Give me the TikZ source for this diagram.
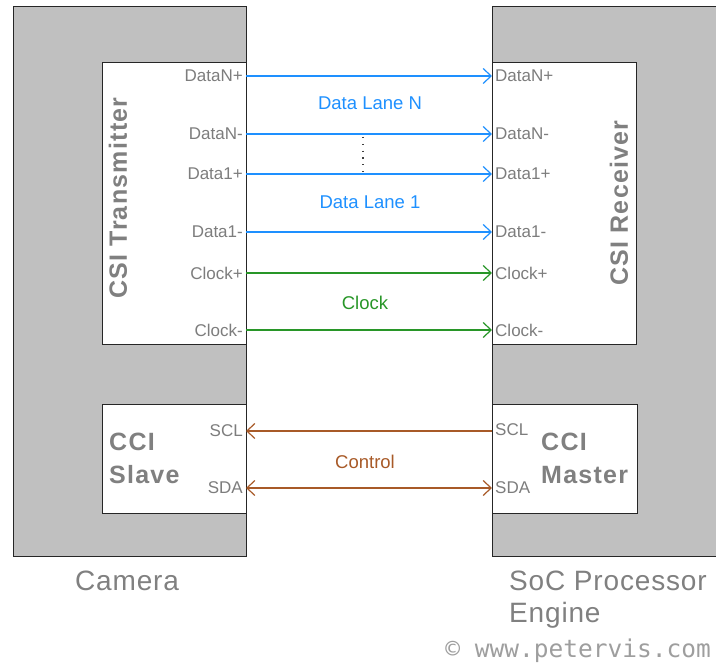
\documentclass[tikz,border=0pt]{standalone}
\usepackage{fontspec}
\setmainfont{Liberation Sans}
\newfontfamily\webfont{DejaVu Sans Mono}
\usepackage{xcolor}
\usetikzlibrary{arrows.meta}

\definecolor{laneblue}{RGB}{30,144,255}
\definecolor{clkgreen}{RGB}{40,150,40}
\definecolor{ctlbrown}{RGB}{168,90,40}
\definecolor{blockgray}{RGB}{192,192,192}
\definecolor{pingray}{RGB}{125,125,125}
\definecolor{titlegray}{RGB}{128,128,128}

\tikzset{
  block/.style={draw=black!85,line width=1.2pt,fill=blockgray,anchor=north west,inner sep=0pt},
  unitbox/.style={draw=black!85,line width=1.2pt,fill=white,anchor=north west,inner sep=0pt},
  pinl/.style={anchor=east,inner xsep=3pt,inner ysep=0pt,text=pingray,font=\fontsize{17}{18}\selectfont},
  pinr/.style={anchor=west,inner xsep=3pt,inner ysep=0pt,text=pingray,font=\fontsize{17}{18}\selectfont},
  title/.style={inner sep=0pt,text=titlegray,font=\bfseries\fontsize{25}{33}\selectfont\addfontfeature{LetterSpace=5}},
  lanetext/.style={font=\fontsize{18.5}{20}\selectfont},
  caption/.style={inner sep=0pt,anchor=north west,align=left,text=titlegray,font=\fontsize{28}{32}\selectfont\addfontfeature{LetterSpace=3}},
  wire/.style={line width=1.2pt},
  lanetip/.tip={Straight Barb[length=8pt,width=15pt]},
}

\begin{document}
\begin{tikzpicture}[x=1pt,y=-1pt]
\useasboundingbox(0,0)rectangle(716,668);

% camera and processor blocks
\node[block,minimum width=233pt,minimum height=550pt](camera)at(13,6){};
\node[block,minimum width=232pt,minimum height=550pt](soc)at(492,6){};

% CSI and CCI units
\node[unitbox,minimum width=144pt,minimum height=282pt](tx)at(102,62){};
\node[unitbox,minimum width=144pt,minimum height=282pt](rx)at(492,62){};
\node[unitbox,minimum width=144pt,minimum height=109pt](slave)at(102,404){};
\node[unitbox,minimum width=145pt,minimum height=109pt](master)at(492,404){};

\node[title,rotate=90](txname)at(118,198){CSI Transmitter};
\node[title,rotate=90](rxname)at(619,203){CSI Receiver};
\node[title,anchor=north west,align=left](slavename)at(109,433){CCI\\Slave};
\node[title,anchor=north west,align=left](mastername)at(541,433){CCI\\Master};

% pins on the transmitter side
\node[pinl](txdnp)at(246,76){DataN+};
\node[pinl](txdnm)at(246,134){DataN-};
\node[pinl](txdap)at(246,174){Data1+};
\node[pinl](txdam)at(246,232){Data1-};
\node[pinl](txckp)at(246,273){Clock+};
\node[pinl](txckm)at(246,330){Clock-};
\node[pinl](slscl)at(246,431){SCL};
\node[pinl](slsda)at(246,488){SDA};

% pins on the receiver side
\node[pinr](rxdnp)at(492,76){DataN+};
\node[pinr](rxdnm)at(492,134){DataN-};
\node[pinr](rxdap)at(492,174){Data1+};
\node[pinr](rxdam)at(492,232){Data1-};
\node[pinr](rxckp)at(492,273){Clock+};
\node[pinr](rxckm)at(492,330){Clock-};
\node[pinr](mascl)at(492,430){SCL};
\node[pinr](masda)at(492,488){SDA};

% lanes
\draw[wire,laneblue,-lanetip](txdnp.east)--(rxdnp.west);
\draw[wire,laneblue,-lanetip](txdnm.east)--(rxdnm.west);
\draw[wire,laneblue,-lanetip](txdap.east)--(rxdap.west);
\draw[wire,laneblue,-lanetip](txdam.east)--(rxdam.west);
\draw[wire,clkgreen,-lanetip](txckp.east)--(rxckp.west);
\draw[wire,clkgreen,-lanetip](txckm.east)--(rxckm.west);
\draw[wire,ctlbrown,lanetip-](slscl.east)--(slscl.east-|mascl.west);
\draw[wire,ctlbrown,lanetip-lanetip](slsda.east)--(masda.west);

\coordinate(dottop)at(363,137);
\coordinate(dotbot)at(363,172);
\draw[line width=1.2pt,black!75,dash pattern=on 1.2pt off 5.6pt](dottop)--(dotbot);

\node[lanetext,laneblue](lanen)at(370,103){Data Lane N};
\node[lanetext,laneblue](lane1)at(370,202){Data Lane 1};
\node[lanetext,clkgreen](clock)at(365,303){Clock};
\node[lanetext,ctlbrown](control)at(365,462){Control};

% captions
\node[caption](camname)at(75,571){Camera};
\node[caption](socname)at(509,571){SoC Processor\\Engine};
\node[anchor=east,inner sep=0pt,text=black!38,font=\webfont\fontsize{24.5}{26}\selectfont](site)at(711,651){\textcopyright{} www.petervis.com};
\end{tikzpicture}
\end{document}
